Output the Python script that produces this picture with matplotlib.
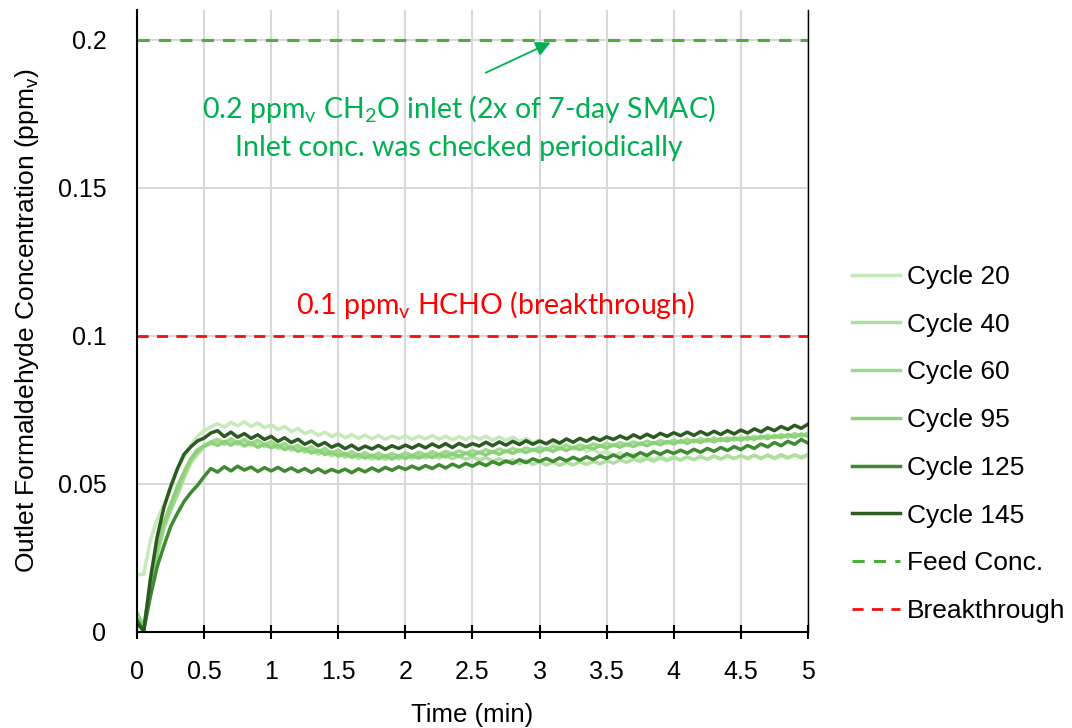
import numpy as np
import matplotlib
matplotlib.use("Agg")
import matplotlib.pyplot as plt

plt.rcParams["font.family"] = "Liberation Sans"
plt.rcParams["mathtext.default"] = "regular"

# time axis, one reading every 0.05 min
time_min = np.arange(101) * 0.05

# outlet concentrations in ppb
cycle20 = [19.3, 19.5, 31, 38, 43, 48, 55, 59, 63, 66, 68, 69.2, 70.4, 69.2, 70.8, 69.6, 71.0, 69.4, 70.6, 69.0, 70.0,
           68.4, 69.4, 67.7, 68.7, 67.0, 68.0, 66.4, 67.5, 66.0, 67.1,
           65.6, 66.7, 65.4, 66.5, 65.2, 66.4, 65.1, 66.2, 65.3, 66.3,
           65.0, 66.2, 65.2, 66.4, 65.1, 66.1, 64.9, 66.0, 65.0, 66.2,
           65.1, 66.1, 64.8, 65.9, 64.7, 65.8, 64.4, 65.4, 63.9, 64.8,
           63.3, 64.1, 62.6, 63.3, 61.8, 62.5, 61.0, 61.7, 60.2, 61.0,
           59.6, 60.5, 59.0, 60.0, 58.6, 59.6, 58.3, 59.4, 58.2, 59.3,
           58.1, 59.2, 58.2, 59.4, 58.3, 59.5, 58.4, 59.6, 58.5, 59.5,
           58.4, 59.6, 58.6, 59.7, 58.5, 59.5, 58.6, 59.8, 58.7, 59.5]
cycle40 = [6.0, 1.5, 14, 27, 36, 41, 46, 52, 57, 60, 62.5, 63.6, 64.5, 63.3, 64.6, 63.4, 64.4, 63.1, 64.1, 62.6, 63.6,
           62.0, 63.0, 61.4, 62.3, 60.7, 61.7, 60.1, 61.1, 59.5, 60.5,
           59.0, 60.0, 58.6, 59.7, 58.4, 59.5, 58.3, 59.4, 58.5, 59.6,
           58.6, 59.8, 58.8, 59.9, 58.7, 59.8, 58.5, 59.5, 58.3, 59.2,
           58.0, 58.9, 57.6, 58.5, 57.2, 58.1, 56.8, 57.8, 56.6, 57.5,
           56.4, 57.4, 56.3, 57.3, 56.4, 57.5, 56.6, 57.6, 56.8, 57.8,
           57.0, 58.1, 57.3, 58.4, 57.6, 58.6, 57.7, 58.8, 57.9, 58.9,
           58.0, 59.1, 58.2, 59.2, 58.3, 59.4, 58.4, 59.5, 58.6, 59.6,
           58.7, 59.7, 58.6, 59.8, 58.8, 59.9, 58.9, 59.8, 59.0, 60.0]
cycle60 = [5.0, 1.0, 13, 26, 35, 41, 47, 53, 58, 61, 63, 64.2, 65.1, 63.9, 65.2, 64.0, 65.0, 63.7, 64.8, 63.3, 64.3,
           62.7, 63.7, 62.1, 63.1, 61.5, 62.6, 60.9, 62.0, 60.4, 61.4,
           59.9, 60.9, 59.5, 60.6, 59.3, 60.4, 59.2, 60.3, 59.4, 60.5,
           59.6, 60.7, 59.8, 60.9, 59.9, 61.0, 60.1, 61.2, 60.3, 61.3,
           60.5, 61.6, 60.7, 61.8, 60.9, 62.0, 61.2, 62.2, 61.3, 62.4,
           61.6, 62.7, 61.8, 63.0, 62.1, 63.2, 62.4, 63.5, 62.7, 63.7,
           62.9, 64.0, 63.1, 64.2, 63.3, 64.5, 63.6, 64.7, 63.8, 64.8,
           64.0, 65.1, 64.2, 65.3, 64.4, 65.5, 64.6, 65.6, 64.8, 65.8,
           65.0, 66.1, 65.3, 66.4, 65.6, 66.7, 65.8, 67.0, 66.1, 67.2]
cycle95 = [6.5, 2.0, 15, 28, 37, 43, 49, 54, 58.5, 61.5, 62.8, 64.0, 63.0, 64.3, 63.1, 64.2, 62.8, 63.9, 62.4, 63.4, 62.2,
           63.1, 61.6, 62.5, 61.0, 61.9, 60.4, 61.4, 59.9, 60.8, 59.4,
           60.3, 59.0, 59.9, 58.7, 59.7, 58.5, 59.6, 58.4, 59.5, 58.6,
           59.6, 58.7, 59.8, 58.9, 60.0, 59.1, 60.2, 59.3, 60.4, 59.6,
           60.7, 59.8, 60.9, 60.0, 61.2, 60.3, 61.4, 60.6, 61.7, 60.8,
           61.9, 61.0, 62.2, 61.3, 62.4, 61.6, 62.7, 61.8, 63.0, 62.1,
           63.2, 62.4, 63.5, 62.6, 63.8, 62.9, 64.0, 63.2, 64.3, 63.5,
           64.6, 63.7, 64.8, 64.0, 65.1, 64.2, 65.3, 64.5, 65.6, 64.8,
           65.8, 65.0, 66.1, 65.3, 66.4, 65.6, 66.7, 65.8, 66.9, 66.1]
cycle125 = [4.0, 0.5, 12, 22, 29, 35.5, 40, 44, 47, 49.5, 52.5, 55.2, 54.0, 55.8, 54.4, 56.0, 54.7, 55.7, 54.2, 55.5, 54.4,
            55.6, 54.3, 55.4, 54.1, 55.2, 53.9, 55.1, 53.8, 54.9, 54.0,
            55.0, 53.8, 55.1, 54.1, 55.4, 54.3, 55.6, 54.6, 55.8, 54.9,
            56.0, 55.0, 56.2, 55.2, 56.5, 55.4, 56.7, 55.7, 56.9, 56.0,
            57.2, 56.2, 57.5, 56.6, 57.8, 56.9, 58.2, 57.2, 58.5, 57.6,
            58.6, 57.6, 58.8, 57.8, 59.0, 58.0, 59.2, 58.2, 59.5, 58.6,
            59.8, 58.8, 60.2, 59.2, 60.6, 59.6, 61.0, 60.0, 61.2, 60.3,
            61.4, 60.4, 61.7, 60.7, 62.0, 61.0, 62.3, 61.3, 62.6, 61.6,
            63.0, 62.0, 63.5, 62.5, 64.0, 62.9, 64.4, 63.4, 65.0, 63.8]
cycle145 = [3.0, 0.3, 18, 32, 42, 49, 55, 60, 62.5, 64.5, 65.5, 67.2, 68.0, 66.0, 67.5, 65.8, 67.0, 65.4, 66.6, 65.0, 66.1,
            64.4, 65.6, 64.0, 65.1, 63.4, 64.5, 62.9, 64.0, 62.4, 63.4,
            61.9, 63.1, 61.6, 62.8, 61.8, 63.0, 61.7, 62.9, 62.0, 63.1,
            62.1, 63.3, 62.2, 63.5, 62.4, 63.6, 62.3, 63.7, 62.6, 63.6,
            62.8, 64.1, 62.9, 64.2, 63.1, 64.4, 63.3, 64.6, 63.4, 64.5,
            63.6, 64.9, 63.8, 65.2, 64.1, 65.4, 64.4, 65.7, 64.7, 65.9,
            65.0, 66.2, 65.2, 66.6, 65.5, 66.8, 65.7, 67.1, 66.1, 67.3,
            66.3, 67.5, 66.4, 67.7, 66.6, 67.8, 66.7, 68.0, 66.9, 68.2,
            67.2, 68.6, 67.6, 69.0, 68.0, 69.4, 68.4, 69.8, 68.8, 70.2]

series = [cycle20, cycle40, cycle60, cycle95, cycle125, cycle145]
labels = ["Cycle 20", "Cycle 40", "Cycle 60", "Cycle 95", "Cycle 125", "Cycle 145"]
colors = ["#c6e9ba", "#ade09e", "#9dd98c", "#8cd07a", "#3d8a30", "#2c5a20"]

feed_conc = 0.2
breakthrough = 0.1

green_txt = "#00b050"

fig = plt.figure(figsize=(10.72, 7.28), dpi=100)
ax = fig.add_axes([0.1278, 0.1319, 0.6259, 0.8544])

ax.grid(True, color="#d9d9d9", lw=1.5)
ax.set_axisbelow(True)

for vals, lab, c in zip(series, labels, colors):
    ax.plot(time_min, np.array(vals) / 1000, color=c, lw=2.5, label=lab)

ax.axhline(feed_conc, color="#4caf3a", lw=2.2, ls=(0, (4, 3)), label="Feed Conc.")
ax.axhline(breakthrough, color="#ee1111", lw=2.0, ls=(0, (4, 3)), label="Breakthrough")

ax.set_xlim(0, 5)
ax.set_ylim(0, 0.2101)
ax.set_xticks(np.arange(0, 5.01, 0.5))
ax.set_xticklabels(["0", "0.5", "1", "1.5", "2", "2.5", "3", "3.5", "4", "4.5", "5"])
ax.set_yticks([0, 0.05, 0.1, 0.15, 0.2])
ax.set_yticklabels(["0", "0.05", "0.1", "0.15", "0.2"])
ax.tick_params(axis="x", direction="inout", length=10, width=1.5, labelsize=18, pad=15)
ax.tick_params(axis="y", length=0, labelsize=18, pad=22)

ax.spines["top"].set_visible(False)
ax.spines["left"].set_linewidth(1.5)
ax.spines["bottom"].set_linewidth(1.5)
ax.spines["right"].set_linewidth(1.0)

ax.set_xlabel("Time (min)", fontsize=18.5, labelpad=14)
ax.set_ylabel("Outlet Formaldehyde Concentration (ppm$_v$)", fontsize=19, labelpad=12)

ax.annotate("", xy=(3.1, 0.1995), xytext=(2.58, 0.1885),
            arrowprops=dict(arrowstyle="-|>", color=green_txt, lw=1.3, mutation_scale=22))
ax.text(2.4, 0.1765, "0.2 ppm$_v$ CH$_2$O inlet (2x of 7-day SMAC)", color=green_txt,
        fontsize=20.5, family="Lato", ha="center", va="center")
ax.text(2.4, 0.1635, "Inlet conc. was checked periodically", color=green_txt,
        fontsize=20.5, family="Lato", ha="center", va="center")
ax.text(2.67, 0.1105, "0.1 ppm$_v$ HCHO (breakthrough)", color="#ff0000",
        fontsize=20.5, family="Lato", ha="center", va="center")

fig.legend(loc="center left", bbox_to_anchor=(0.773, 0.39), frameon=False, fontsize=19,
           handlelength=1.8, handletextpad=0.25, labelspacing=0.9)

fig.savefig("out.png", dpi=100)
